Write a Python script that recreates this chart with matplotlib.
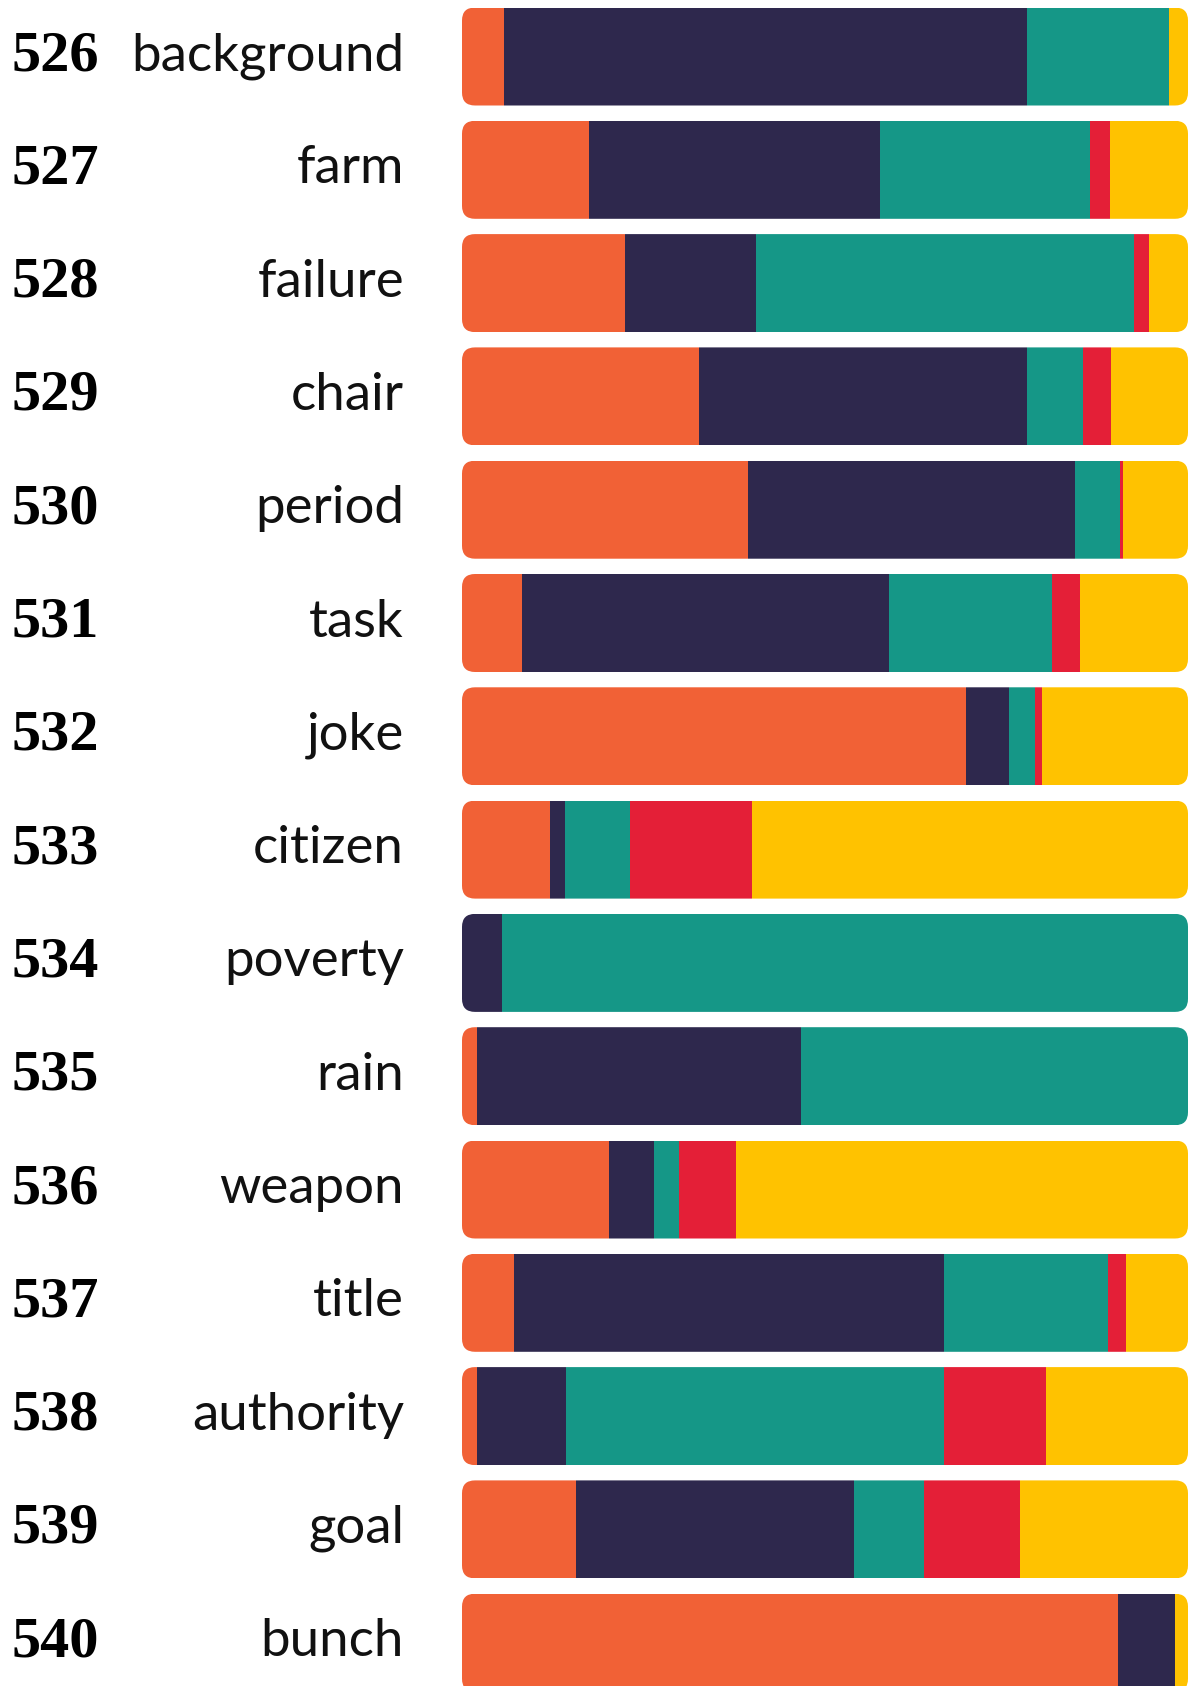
import matplotlib
matplotlib.use("Agg")
import matplotlib.pyplot as plt
import numpy as np
from matplotlib.patches import FancyBboxPatch
from matplotlib import transforms

# data: share of each of 5 categories per word
ranks = [526, 527, 528, 529, 530, 531, 532, 533, 534, 535, 536, 537, 538, 539, 540]
words = ["background", "farm", "failure", "chair", "period", "task", "joke",
         "citizen", "poverty", "rain", "weapon", "title", "authority", "goal", "bunch"]
orange = [0.058, 0.175, 0.224, 0.327, 0.394, 0.082, 0.694, 0.121, 0.000, 0.021, 0.202, 0.072, 0.021, 0.157, 0.903]
navy   = [0.720, 0.401, 0.181, 0.451, 0.450, 0.506, 0.060, 0.021, 0.055, 0.446, 0.062, 0.592, 0.122, 0.383, 0.079]
teal   = [0.196, 0.289, 0.521, 0.078, 0.063, 0.224, 0.035, 0.090, 0.945, 0.533, 0.035, 0.226, 0.521, 0.096, 0.000]
red    = [0.000, 0.027, 0.020, 0.038, 0.003, 0.039, 0.010, 0.168, 0.000, 0.000, 0.078, 0.024, 0.141, 0.132, 0.000]
yellow = [0.026, 0.108, 0.054, 0.106, 0.090, 0.149, 0.201, 0.600, 0.000, 0.000, 0.623, 0.086, 0.195, 0.232, 0.018]

colors = ["#F16136", "#2E284D", "#159787", "#E41F37", "#FFC200"]

W, H = 1189, 1686
fig = plt.figure(figsize=(W/100, H/100), dpi=100)
fig.patch.set_facecolor("white")

# bar axes: x in share 0..1, one row per word
ax = fig.add_axes([462/W, 0, 726/W, 1])
pitch = 113.3
ax.set_xlim(0, 1)
ax.set_ylim((H - 56.5)/pitch, -56.5/pitch)
ax.axis("off")

bh = 98/pitch
y = np.arange(len(words))
left = np.zeros(len(words))
segs = []
for vals, c in zip([orange, navy, teal, red, yellow], colors):
    bars = ax.barh(y, vals, left=left, height=bh, color=c, linewidth=0)
    segs.append(bars)
    left = left + np.array(vals)

# rounded outline per row, used as clip path
px_x = 726.0   # pixels per x unit
r = 13/px_x
aspect = px_x/pitch
for i in range(len(words)):
    clip = FancyBboxPatch((0, i - bh/2), 1, bh,
                          boxstyle="round,pad=0,rounding_size=%f" % r,
                          mutation_aspect=aspect, transform=ax.transData,
                          facecolor="none", edgecolor="none")
    ax.add_patch(clip)
    for bars in segs:
        bars[i].set_clip_path(clip)

# labels
tr = transforms.blended_transform_factory(fig.transFigure, ax.transData)
for i in range(len(words)):
    ax.text(12/W, i + 0.12, str(ranks[i]), transform=tr, ha="left", va="baseline",
            fontsize=42, fontweight="bold", family="Liberation Serif", color="black")
    ax.text(404/W, i + 0.12, words[i], transform=tr, ha="right", va="baseline",
            fontsize=38, fontweight="normal", family="Lato", color="#111111")

fig.savefig("out.png", dpi=100, facecolor="white")
